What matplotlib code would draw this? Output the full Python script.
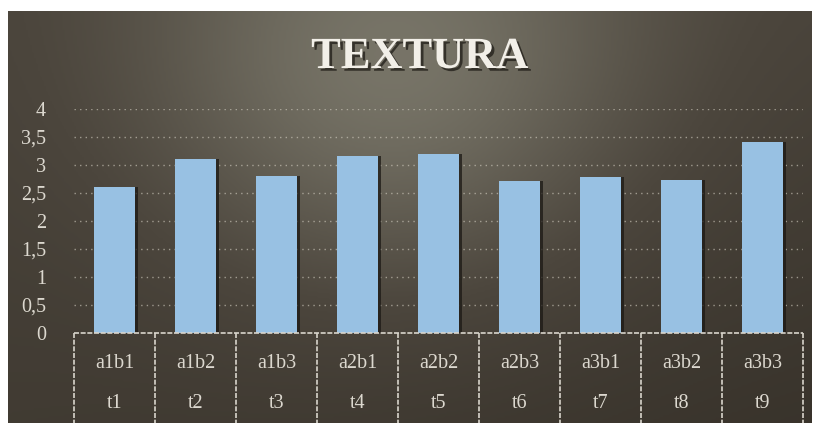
import numpy as np
import matplotlib
matplotlib.use("Agg")
import matplotlib.pyplot as plt
import matplotlib.patheffects as pe
from matplotlib.colors import LinearSegmentedColormap

# data
tratamientos = ["a1b1", "a1b2", "a1b3", "a2b1", "a2b2", "a2b3", "a3b1", "a3b2", "a3b3"]
codigos = ["t1", "t2", "t3", "t4", "t5", "t6", "t7", "t8", "t9"]
textura = [2.60, 3.10, 2.81, 3.16, 3.20, 2.72, 2.79, 2.74, 3.41]
yticks = [0, 0.5, 1, 1.5, 2, 2.5, 3, 3.5, 4]
ylabels = ["0", "0,5", "1", "1,5", "2", "2,5", "3", "3,5", "4"]

plt.rcParams["font.family"] = "serif"
plt.rcParams["font.serif"] = ["Liberation Serif", "DejaVu Serif"]

W, H = 818, 423
fig = plt.figure(figsize=(W / 100, H / 100), dpi=100)
fig.patch.set_facecolor("white")

# dark background with a soft light spot near the top middle
bg = fig.add_axes([8 / W, 0, 803 / W, 412 / H], zorder=-5)
gx, gy = np.meshgrid(np.linspace(0, 1, 400), np.linspace(0, 1, 220))
glow = np.exp(-((gx - 0.48) ** 2 / 0.10 + (gy - 0.15) ** 2 / 0.30))
val = 0.32 + 0.55 * glow + 0.12 * (1 - gy) - 0.12 * gx * gy
cmap = LinearSegmentedColormap.from_list("bg", ["#2c2720", "#4c463d", "#7a776a"])
bg.imshow(val, cmap=cmap, aspect="auto", vmin=0, vmax=1, interpolation="bilinear")
bg.axis("off")

ax = fig.add_axes([74 / W, 90 / H, 729 / W, 224 / H])
ax.patch.set_alpha(0)
x = np.arange(len(tratamientos))

txtcol = "#dcd8cf"

ax.set_ylim(0, 4)
ax.set_xlim(-0.5, len(tratamientos) - 0.5)
ax.set_yticks(yticks)
ax.set_yticklabels(ylabels, fontsize=14.5, color=txtcol)
ax.tick_params(axis="y", length=0, pad=20)
ax.set_xticks([])
for s in ax.spines.values():
    s.set_visible(False)

for t in yticks[1:]:
    ax.axhline(t, color="#cfcabd", lw=1, ls=(0, (1, 3)), alpha=0.65, zorder=1)

# bar shadow, then bars
ax.bar(x + 0.035, textura, width=0.51, color="#1c1915", alpha=0.75, zorder=2)
ax.bar(x, textura, width=0.51, color="#98c1e3", zorder=3)

# category table under the axis
line_kw = dict(color="#d9d5cc", lw=1.2, ls=(0, (3, 1)), clip_on=False, zorder=4)
trans = ax.get_xaxis_transform()
ax.plot([-0.5, len(tratamientos) - 0.5], [0, 0], transform=trans, **line_kw)
bottom = -90 / 224
for b in np.arange(-0.5, len(tratamientos), 1.0):
    ax.plot([b, b], [0, bottom], transform=trans, **line_kw)
for i in x:
    ax.text(i, -30 / 224, tratamientos[i], transform=trans, ha="center", va="center",
            fontsize=14.5, color=txtcol)
    ax.text(i, -70 / 224, codigos[i], transform=trans, ha="center", va="center",
            fontsize=14.5, color=txtcol)

fig.text(420 / W, 1 - 57 / H, "TEXTURA", ha="center", va="center",
         fontweight="bold", fontsize=32, color="#f2efe8",
         path_effects=[pe.SimplePatchShadow(offset=(2, -2), shadow_rgbFace="#1a1712", alpha=0.7),
                       pe.Normal()])

fig.savefig("out.png", dpi=100)
